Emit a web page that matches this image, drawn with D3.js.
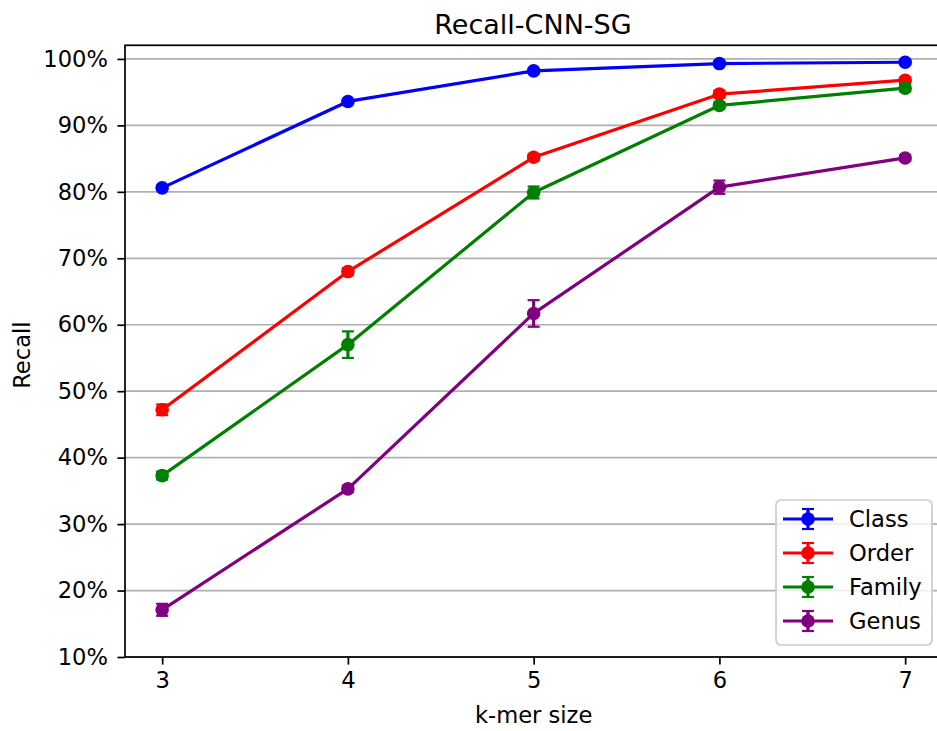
<!DOCTYPE html>
<html>
<head>
<meta charset="utf-8">
<script src="https://cdn.jsdelivr.net/npm/d3@7"></script>
<style>
  html, body { margin: 0; padding: 0; background: #fff; }
  svg { display: block; font-family: "DejaVu Sans", sans-serif; }
</style>
</head>
<body>
<svg id="chart" width="937" height="731"></svg>
<script>
// k-mer sizes on the x axis
const kmers = [3, 4, 5, 6, 7];

// Mean recall (%) per taxonomic level
const classRecall  = [80.6, 93.6, 98.2, 99.3, 99.5];
const orderRecall  = [47.2, 68.0, 85.2, 94.7, 96.8];
const familyRecall = [37.3, 57.0, 79.9, 93.0, 95.6];
const genusRecall  = [17.1, 35.3, 61.7, 80.7, 85.1];

// Standard deviation (%) drawn as error bars
const classErr  = [0.3, 0.3, 0.3, 0.3, 0.3];
const orderErr  = [0.8, 0.5, 0.5, 0.5, 0.4];
const familyErr = [0.6, 2.0, 0.9, 0.5, 0.5];
const genusErr  = [0.9, 0.5, 2.0, 1.0, 0.4];

const seriesNames  = ["Class", "Order", "Family", "Genus"];
const seriesColors = ["#0000ff", "#ff0000", "#008000", "#800080"];

const yTicks = [10, 20, 30, 40, 50, 60, 70, 80, 90, 100];

const series = [
  { name: seriesNames[0], color: seriesColors[0], values: classRecall,  errs: classErr },
  { name: seriesNames[1], color: seriesColors[1], values: orderRecall,  errs: orderErr },
  { name: seriesNames[2], color: seriesColors[2], values: familyRecall, errs: familyErr },
  { name: seriesNames[3], color: seriesColors[3], values: genusRecall,  errs: genusErr }
];

const svg = d3.select("#chart");
const plot = { left: 125, top: 45.3, bottom: 657, right: 942.3 };

const x = d3.scaleLinear().domain([2.8, 7.2]).range([plot.left, plot.right]);
const y = d3.scaleLinear().domain([10, 102.05]).range([plot.bottom, plot.top]);

const fontSize = 22.6;
const tickLen = 7.6;

// horizontal grid
svg.append("g")
  .selectAll("line")
  .data(yTicks)
  .join("line")
  .attr("x1", plot.left).attr("x2", plot.right)
  .attr("y1", d => y(d)).attr("y2", d => y(d))
  .attr("stroke", "#b0b0b0").attr("stroke-width", 1.7);

// axes
const xAxis = d3.axisBottom(x).tickValues(kmers).tickFormat(d3.format("d"))
  .tickSize(tickLen).tickPadding(7.2);
const yAxis = d3.axisLeft(y).tickValues(yTicks).tickFormat(d => d + "%")
  .tickSize(tickLen).tickPadding(9.5);

const gx = svg.append("g").attr("transform", `translate(0,${plot.bottom})`).call(xAxis);
const gy = svg.append("g").attr("transform", `translate(${plot.left},0)`).call(yAxis);
[gx, gy].forEach(g => {
  g.select(".domain").remove();
  g.selectAll(".tick line").attr("stroke", "#000").attr("stroke-width", 1.7);
  g.selectAll(".tick text").attr("fill", "#000")
    .style("font-size", fontSize + "px").style("font-family", "DejaVu Sans");
});

// frame (spines)
svg.append("rect")
  .attr("x", plot.left).attr("y", plot.top)
  .attr("width", plot.right - plot.left).attr("height", plot.bottom - plot.top)
  .attr("fill", "none").attr("stroke", "#000").attr("stroke-width", 1.7);

const line = d3.line().x((d, i) => x(kmers[i])).y(d => y(d));
const capHalf = 6;

series.forEach(s => {
  const g = svg.append("g");
  g.append("path")
    .datum(s.values)
    .attr("d", line)
    .attr("fill", "none")
    .attr("stroke", s.color)
    .attr("stroke-width", 3.2)
    .attr("stroke-linejoin", "round");

  const pts = s.values.map((v, i) => ({ k: kmers[i], v, e: s.errs[i] }));
  // error bars
  const eb = g.selectAll("g.err").data(pts).join("g").attr("class", "err");
  eb.append("line")
    .attr("x1", d => x(d.k)).attr("x2", d => x(d.k))
    .attr("y1", d => y(d.v - d.e)).attr("y2", d => y(d.v + d.e))
    .attr("stroke", s.color).attr("stroke-width", 3.2);
  [-1, 1].forEach(sign => {
    eb.append("line")
      .attr("x1", d => x(d.k) - capHalf).attr("x2", d => x(d.k) + capHalf)
      .attr("y1", d => y(d.v + sign * d.e)).attr("y2", d => y(d.v + sign * d.e))
      .attr("stroke", s.color).attr("stroke-width", 2.2);
  });
  // markers
  g.selectAll("circle").data(pts).join("circle")
    .attr("cx", d => x(d.k)).attr("cy", d => y(d.v))
    .attr("r", 6.8).attr("fill", s.color);
});

// title and axis labels
svg.append("text")
  .attr("x", 533).attr("y", 34)
  .attr("text-anchor", "middle")
  .style("font-size", "27px")
  .text("Recall-CNN-SG");

svg.append("text")
  .attr("x", x(5)).attr("y", 723)
  .attr("text-anchor", "middle")
  .style("font-size", fontSize + "px")
  .text("k-mer size");

svg.append("text")
  .attr("transform", `translate(30,${(plot.top + plot.bottom) / 2 + 4}) rotate(-90)`)
  .attr("text-anchor", "middle")
  .style("font-size", fontSize + "px")
  .text("Recall");

// legend
const lg = svg.append("g");
lg.append("rect")
  .attr("x", 776).attr("y", 500).attr("width", 156).attr("height", 145)
  .attr("rx", 5).attr("ry", 5)
  .attr("fill", "#fff").attr("fill-opacity", 0.8)
  .attr("stroke", "#cccccc").attr("stroke-width", 1.7);

series.forEach((s, i) => {
  const cy = 519 + i * 34;
  const e = lg.append("g");
  e.append("line").attr("x1", 783).attr("x2", 833).attr("y1", cy).attr("y2", cy)
    .attr("stroke", s.color).attr("stroke-width", 3.2);
  e.append("line").attr("x1", 808).attr("x2", 808).attr("y1", cy - 10).attr("y2", cy + 10)
    .attr("stroke", s.color).attr("stroke-width", 3.2);
  [-10, 10].forEach(dy => e.append("line")
    .attr("x1", 808 - capHalf).attr("x2", 808 + capHalf)
    .attr("y1", cy + dy).attr("y2", cy + dy)
    .attr("stroke", s.color).attr("stroke-width", 2.2));
  e.append("circle").attr("cx", 808).attr("cy", cy).attr("r", 6.8).attr("fill", s.color);
  e.append("text").attr("x", 849).attr("y", cy + 8)
    .style("font-size", fontSize + "px")
    .text(s.name);
});
</script>
</body>
</html>
